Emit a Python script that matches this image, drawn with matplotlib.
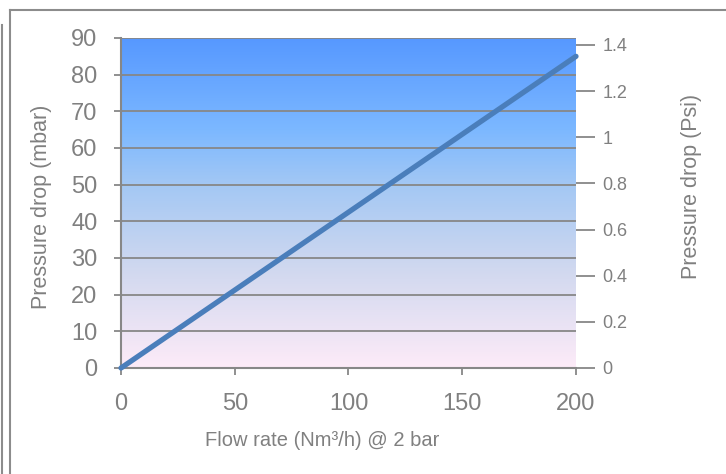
import numpy as np
import matplotlib
matplotlib.use("Agg")
import matplotlib.pyplot as plt
from matplotlib.colors import LinearSegmentedColormap
from matplotlib.lines import Line2D

flow = [0, 200]
pressure_mbar = [0, 85]
x_ticks = [0, 50, 100, 150, 200]
y_ticks = [0, 10, 20, 30, 40, 50, 60, 70, 80, 90]
psi_ticks = [0, 0.2, 0.4, 0.6, 0.8, 1.0, 1.2, 1.4]
psi_labels = ["0", "0.2", "0.4", "0.6", "0.8", "1", "1.2", "1.4"]

plt.rcParams['font.family'] = ['Liberation Sans', 'DejaVu Sans']
gray = '#808080'
gline = '#878787'

fig = plt.figure(figsize=(7.26, 4.74), dpi=100)
ax = fig.add_axes([121/726, 1-368/474, (576-121)/726, (368-38)/474])

cmap = LinearSegmentedColormap.from_list('bg', [(0, '#fdebf8'), (0.3, '#d0d8ef'), (0.55, '#a4c8f4'), (0.72, '#7cb8ff'), (1, '#5698ff')])
grad = np.linspace(0, 1, 256).reshape(-1, 1)
ax.imshow(grad, extent=[0, 200, 0, 90], origin='lower', aspect='auto', cmap=cmap, zorder=0)

for v in y_ticks[1:]:
    ax.axhline(v, color=gline, lw=1.3, zorder=1)

ax.plot(flow, pressure_mbar, color='#4a7ebb', lw=3.8, solid_capstyle='round', zorder=3, clip_on=False)

ax.set_xlim(0, 200)
ax.set_ylim(0, 90)
ax.set_xticks(x_ticks)
ax.set_yticks(y_ticks)
for s in ['top', 'right']:
    ax.spines[s].set_visible(False)
for s in ['left', 'bottom']:
    ax.spines[s].set_color(gline)
    ax.spines[s].set_linewidth(1.5)
ax.tick_params(axis='both', colors=gline, labelcolor=gray, length=5, width=1.3, direction='out', labelsize=17)
ax.tick_params(axis='y', pad=12)
ax.tick_params(axis='x', pad=13)

ax2 = ax.twinx()
ax2.set_ylim(0, 1.43)
ax2.set_yticks(psi_ticks)
ax2.set_yticklabels(psi_labels)
for s in ax2.spines.values():
    s.set_visible(False)
ax2.tick_params(axis='y', colors=gline, labelcolor=gray, length=14, width=1.3, direction='out', labelsize=13, pad=5)

fig.text(42/726, 1-207/474, 'Pressure drop (mbar)', rotation=90, ha='center', va='center', color=gray, fontsize=15.5)
fig.text(692/726, 1-186/474, 'Pressure drop (Psi)', rotation=90, ha='center', va='center', color=gray, fontsize=15.5)
fig.text(322/726, 1-441/474, 'Flow rate (Nm³/h) @ 2 bar', ha='center', va='center', color=gray, fontsize=14.5)

fig.add_artist(Line2D([10/726, 1], [1-10/474, 1-10/474], transform=fig.transFigure, color='#8c8c8c', lw=1.5))
fig.add_artist(Line2D([10/726, 10/726], [1-10/474, 0], transform=fig.transFigure, color='#8c8c8c', lw=1.5))
fig.add_artist(Line2D([1.5/726, 1.5/726], [1-25/474, 0], transform=fig.transFigure, color='#8c8c8c', lw=1.5))

fig.savefig('out.png', dpi=100)
